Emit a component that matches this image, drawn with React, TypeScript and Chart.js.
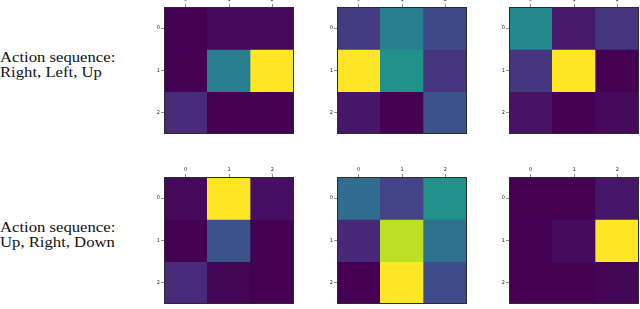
import React, { useEffect, useRef } from "react";
import { Chart, registerables } from "chart.js";

Chart.register(...registerables);

// ---- data ----
const colLabels = ["0", "1", "2"];
const rowLabels = ["0", "1", "2"];

const sequenceLabels = [
  ["Action sequence:", "Right, Left, Up"],
  ["Action sequence:", "Up, Right, Down"],
];

// sequence 1 (Right, Left, Up): normalised map values per step
const seq1Step1 = [
  [0.0, 0.02, 0.02],
  [0.0, 0.42, 1.0],
  [0.12, 0.0, 0.0],
];
const seq1Step2 = [
  [0.17, 0.42, 0.22],
  [1.0, 0.5, 0.15],
  [0.06, 0.0, 0.25],
];
const seq1Step3 = [
  [0.47, 0.07, 0.15],
  [0.16, 1.0, 0.0],
  [0.05, 0.0, 0.02],
];

// sequence 2 (Up, Right, Down)
const seq2Step1 = [
  [0.02, 1.0, 0.04],
  [0.0, 0.25, 0.0],
  [0.12, 0.01, 0.0],
];
const seq2Step2 = [
  [0.35, 0.2, 0.5],
  [0.11, 0.9, 0.37],
  [0.0, 1.0, 0.23],
];
const seq2Step3 = [
  [0.0, 0.0, 0.06],
  [0.0, 0.03, 1.0],
  [0.0, 0.0, 0.01],
];

// ---- colour scale ----
const viridisStops = [
  "#440154", "#482475", "#414487", "#355f8d", "#2a788e", "#21918c",
  "#22a884", "#44bf70", "#7ad151", "#bddf26", "#fde725",
];
function hexToRgb(h: string) {
  const n = parseInt(h.slice(1), 16);
  return [(n >> 16) & 255, (n >> 8) & 255, n & 255];
}
function viridis(t: number) {
  const v = Math.max(0, Math.min(1, t)) * (viridisStops.length - 1);
  const i = Math.min(Math.floor(v), viridisStops.length - 2);
  const f = v - i;
  const a = hexToRgb(viridisStops[i]);
  const b = hexToRgb(viridisStops[i + 1]);
  const c = a.map((x, k) => Math.round(x + (b[k] - x) * f));
  return `rgb(${c[0]},${c[1]},${c[2]})`;
}

const AXIS_W = 20;
const AXIS_H = 12;
const AREA = 130;

const framePlugin = {
  id: "frame",
  afterDraw(chart: any) {
    const { ctx, chartArea } = chart;
    ctx.save();
    ctx.strokeStyle = "#2b2b2b";
    ctx.lineWidth = 1;
    ctx.strokeRect(
      chartArea.left + 0.5,
      chartArea.top + 0.5,
      chartArea.right - chartArea.left - 1,
      chartArea.bottom - chartArea.top - 1
    );
    ctx.restore();
  },
};

function Heatmap({ values, left, top }: { values: number[][]; left: number; top: number }) {
  const ref = useRef<HTMLCanvasElement | null>(null);
  useEffect(() => {
    if (!ref.current) return;
    const tickFont = { family: "DejaVu Sans", size: 5 };
    const chart = new Chart(ref.current, {
      type: "bar",
      data: {
        labels: colLabels,
        datasets: rowLabels.map((r, ri) => ({
          label: r,
          data: colLabels.map(() => 1),
          backgroundColor: colLabels.map((_, ci) => viridis(values[ri][ci])),
          borderWidth: 0,
          barPercentage: 1,
          categoryPercentage: 1,
        })),
      },
      options: {
        responsive: false,
        animation: false,
        devicePixelRatio: 1,
        layout: { padding: { top: 0, left: 0, right: 1, bottom: 1 } },
        plugins: { legend: { display: false }, tooltip: { enabled: false } },
        scales: {
          x: {
            type: "category",
            position: "top",
            stacked: true,
            offset: true,
            grid: { offset: false, drawOnChartArea: false, drawTicks: true, tickLength: 3, color: "#444", lineWidth: 0.6 },
            border: { display: false },
            ticks: { font: tickFont, color: "#222", padding: 1, maxRotation: 0 },
            afterFit: (s: any) => { s.height = AXIS_H; },
          },
          y: {
            type: "linear",
            stacked: true,
            min: 0,
            max: rowLabels.length,
            reverse: true,
            grid: { drawOnChartArea: false, drawTicks: true, tickLength: 3, color: "#444", lineWidth: 0.6 },
            border: { display: false },
            afterBuildTicks: (s: any) => {
              s.ticks = rowLabels.map((_, i) => ({ value: i + 0.5 }));
            },
            ticks: {
              font: tickFont,
              color: "#222",
              padding: 1,
              callback: (v: any) => rowLabels[Math.floor(Number(v))] ?? "",
            },
            afterFit: (s: any) => { s.width = AXIS_W; },
          },
        },
      },
      plugins: [framePlugin],
    } as any);
    return () => chart.destroy();
  }, [values]);
  return (
    <canvas
      ref={ref}
      width={AXIS_W + AREA + 1}
      height={AXIS_H + AREA + 1}
      style={{ position: "absolute", left: left - AXIS_W, top: top - AXIS_H, width: AXIS_W + AREA + 1, height: AXIS_H + AREA + 1 }}
    />
  );
}

const labelStyle: React.CSSProperties = {
  position: "absolute",
  left: 0,
  fontFamily: "'Liberation Serif', 'Times New Roman', serif",
  fontSize: "14.5px",
  lineHeight: "15.4px",
  color: "#111",
  whiteSpace: "nowrap",
  transform: "scaleX(1.15)",
  transformOrigin: "left top",
};

export default function App() {
  const rows = [
    { top: 7, maps: [seq1Step1, seq1Step2, seq1Step3], labelTop: 49.7 },
    { top: 177, maps: [seq2Step1, seq2Step2, seq2Step3], labelTop: 219.7 },
  ];
  const colLefts = [164, 337, 509];
  return (
    <div style={{ position: "absolute", left: 0, top: 0, width: 640, height: 309, overflow: "hidden", background: "#fff" }}>
      {rows.map((row, ri) => (
        <React.Fragment key={ri}>
          <div style={{ ...labelStyle, top: row.labelTop }}>
            {sequenceLabels[ri][0]}
            <br />
            {sequenceLabels[ri][1]}
          </div>
          {row.maps.map((m, mi) => (
            <Heatmap key={mi} values={m} left={colLefts[mi]} top={row.top} />
          ))}
        </React.Fragment>
      ))}
    </div>
  );
}
